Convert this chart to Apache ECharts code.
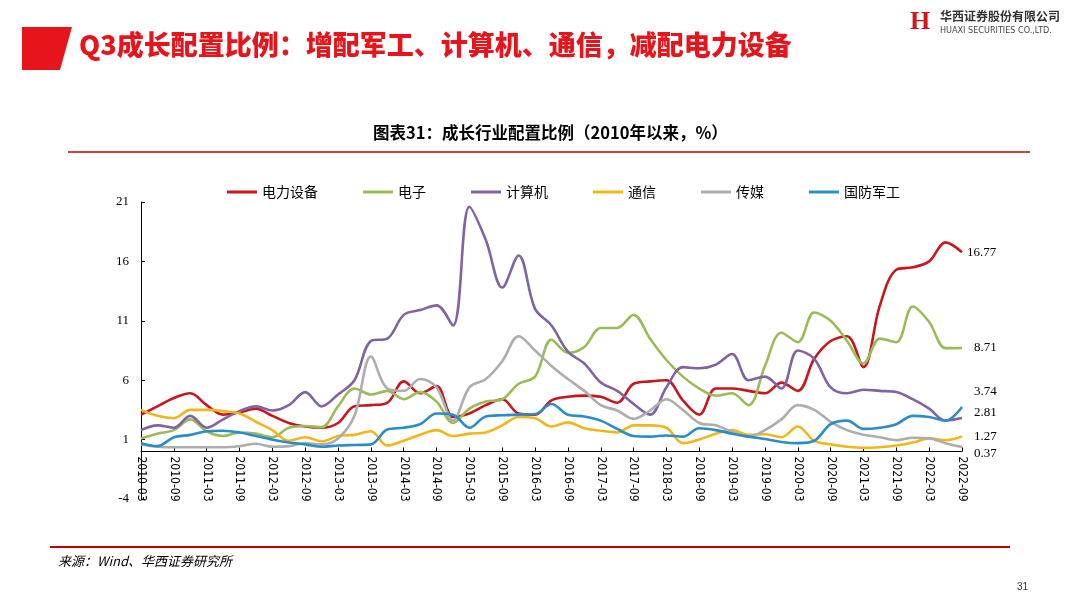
<!DOCTYPE html>
<html>
<head>
<meta charset="utf-8">
<title>成长行业配置比例</title>
<script src="https://cdn.jsdelivr.net/npm/echarts@6/dist/echarts.min.js"></script>
<style>
  html, body { margin: 0; padding: 0; background: #fff; }
  #chart { width: 1080px; height: 605px; }
</style>
</head>
<body>
<div id="chart"></div>
<script>
// 季度末日期
var dates = [
  '2010-03','2010-06','2010-09','2010-12','2011-03','2011-06','2011-09','2011-12',
  '2012-03','2012-06','2012-09','2012-12','2013-03','2013-06','2013-09','2013-12',
  '2014-03','2014-06','2014-09','2014-12','2015-03','2015-06','2015-09','2015-12',
  '2016-03','2016-06','2016-09','2016-12','2017-03','2017-06','2017-09','2017-12',
  '2018-03','2018-06','2018-09','2018-12','2019-03','2019-06','2019-09','2019-12',
  '2020-03','2020-06','2020-09','2020-12','2021-03','2021-06','2021-09','2021-12',
  '2022-03','2022-06','2022-09'
];

var names = ['电力设备', '电子', '计算机', '通信', '传媒', '国防军工'];
var colors = ['#C8161D', '#9BBB59', '#8064A2', '#F2B619', '#ADADAD', '#2B8DC8'];

var powerEquip = [3.1,3.8,4.5,4.9,3.9,3.1,3.3,3.6,3.0,2.4,2.1,2.0,2.4,3.8,3.9,4.1,
  5.9,4.9,5.5,2.9,3.2,3.9,4.4,3.2,3.1,4.3,4.6,4.7,4.6,4.1,5.7,5.9,
  6.0,4.3,3.1,5.3,5.3,5.1,4.9,5.8,5.1,7.8,9.3,9.7,7.1,12.3,15.3,15.5,
  16.0,17.6,16.77];
var electronics = [1.1,1.5,1.8,2.7,1.7,1.3,1.6,1.5,1.2,2.0,2.15,2.05,3.8,5.3,4.8,5.1,
  4.4,5.0,4.2,2.4,3.6,4.2,4.4,5.7,6.3,9.4,8.3,8.8,10.4,10.4,11.5,9.5,
  7.7,6.3,5.3,4.7,4.9,3.9,7.2,10.0,9.2,11.7,11.0,9.3,7.4,9.5,9.2,12.2,
  10.9,8.7,8.71];
var computer = [1.8,2.2,2.0,3.0,2.0,2.7,3.4,3.8,3.45,3.9,5.0,3.8,4.8,6.0,9.3,9.5,
  11.5,11.9,12.3,10.6,20.6,17.8,13.8,16.5,12.0,10.6,8.4,7.4,5.8,5.1,4.0,3.1,
  5.4,7.1,7.0,7.3,8.2,6.0,6.3,5.3,8.5,7.8,5.4,4.9,5.2,5.1,5.0,4.4,
  3.6,2.6,2.81];
var telecom = [3.5,3.0,2.8,3.5,3.5,3.4,3.2,2.5,1.8,0.9,1.2,0.85,1.3,1.4,1.7,0.5,
  0.9,1.4,1.8,1.3,1.5,1.6,2.2,2.9,2.8,2.1,2.45,1.95,1.75,1.6,2.2,2.2,
  2.0,0.7,1.0,1.5,1.8,1.4,1.45,1.2,2.1,0.9,0.6,0.4,0.3,0.35,0.5,0.75,
  1.1,0.95,1.27];
var media = [0.6,0.4,0.35,0.35,0.35,0.35,0.45,0.65,0.4,0.45,0.7,0.6,1.1,3.0,8.0,5.3,
  5.1,6.1,5.4,2.6,5.4,6.1,7.6,9.7,8.5,7.2,6.1,5.1,3.9,3.45,2.75,3.45,
  4.4,3.5,2.4,2.2,1.65,1.25,1.8,2.7,3.9,3.5,2.5,1.8,1.4,1.2,0.95,1.15,
  1.1,0.7,0.37];
var defense = [0.7,0.45,1.2,1.4,1.7,1.75,1.6,1.3,1.0,0.75,0.6,0.4,0.5,0.55,0.6,1.85,
  2.0,2.3,3.2,3.1,2.0,2.95,3.05,3.1,3.15,4.0,3.1,2.95,2.6,1.9,1.3,1.25,
  1.35,1.25,1.95,1.8,1.5,1.25,1.05,0.8,0.7,0.9,2.3,2.6,1.9,2.0,2.3,3.0,
  2.9,2.6,3.74];

var seriesData = [powerEquip, electronics, computer, telecom, media, defense];
// 末端标签的上下错开（避免重叠）
var endOffsets = [[0, 0], [0, 0], [0, -6], [0, 0], [0, 6], [0, -15]];
var endDistances = [5, 12, 12, 12, 12, 12];

var yMin = -4, yMax = 21;
var gridTop = 202, gridBottom = 106;

var serif = '"Times New Roman", "Liberation Serif", serif';
var cjk = '"Noto Sans CJK SC", sans-serif';

var myChart = echarts.init(document.getElementById('chart'), null, { renderer: 'canvas' });

// x轴放在 0 的位置
var plotH = 605 - gridTop - gridBottom;
var zeroOffset = -plotH * (0 - yMin) / (yMax - yMin);

var series = names.map(function (n, k) {
  return {
    name: n,
    type: 'line',
    data: seriesData[k],
    smooth: 0.35,
    symbol: 'none',
    lineStyle: { width: 2.6, color: colors[k] },
    itemStyle: { color: colors[k] },
    endLabel: {
      show: true,
      formatter: function (p) { return p.value; },
      color: '#000',
      fontFamily: serif,
      fontSize: 13,
      distance: endDistances[k],
      offset: endOffsets[k]
    }
  };
});

var option = {
  animation: false,
  backgroundColor: '#fff',
  legend: {
    data: names,
    left: 222,
    top: 180,
    itemWidth: 30,
    itemHeight: 3,
    itemGap: 45,
    icon: 'rect',
    textStyle: { fontFamily: cjk, fontSize: 14, color: '#000' }
  },
  grid: { left: 141, right: 118, top: gridTop, bottom: gridBottom },
  xAxis: {
    type: 'category',
    data: dates,
    boundaryGap: false,
    position: 'bottom',
    offset: zeroOffset,
    axisLine: { onZero: false, lineStyle: { color: '#000', width: 1 } },
    axisTick: { inside: true, interval: 1, length: 4, lineStyle: { color: '#000' } },
    axisLabel: {
      interval: 1,
      rotate: -90,
      margin: 5,
      color: '#000',
      fontSize: 12,
      fontFamily: '"DejaVu Sans Condensed", "Liberation Sans Narrow", sans-serif'
    }
  },
  yAxis: {
    type: 'value',
    min: yMin,
    max: yMax,
    interval: 5,
    axisLine: { show: true, lineStyle: { color: '#000', width: 1 } },
    axisTick: { show: true, inside: true, length: 4, lineStyle: { color: '#000' } },
    splitLine: { show: false },
    axisLabel: { color: '#000', fontFamily: serif, fontSize: 13, margin: 12 }
  },
  series: series,
  graphic: [
    { type: 'polygon', shape: { points: [[22, 27], [72, 27], [60, 70], [22, 70]] },
      style: { fill: '#E8141B' } },
    { type: 'text', left: 79, top: 31,
      style: { text: 'Q3成长配置比例：增配军工、计算机、通信，减配电力设备',
        fill: '#E8141B', font: '900 27px "Noto Sans CJK SC", sans-serif' } },
    { type: 'text', left: 910, top: 9,
      style: { text: 'H', fill: '#D7141A', font: 'bold 26px "Liberation Serif", serif' } },
    { type: 'text', left: 940, top: 10,
      style: { text: '华西证券股份有限公司', fill: '#333', font: 'bold 12px "Noto Sans CJK SC", serif' } },
    { type: 'text', left: 940, top: 26,
      style: { text: 'HUAXI SECURITIES CO.,LTD.', fill: '#444', font: '9px "Liberation Sans Narrow", "DejaVu Sans Condensed", sans-serif' } },
    { type: 'text', left: 373, top: 124,
      style: { text: '图表31：成长行业配置比例（2010年以来，%）', fill: '#000',
        font: 'bold 16.5px "Noto Sans CJK SC", sans-serif' } },
    { type: 'line', shape: { x1: 68, y1: 152, x2: 1030, y2: 152 },
      style: { stroke: '#C00000', lineWidth: 1.5 } },
    { type: 'line', shape: { x1: 50, y1: 547, x2: 1010, y2: 547 },
      style: { stroke: '#C00000', lineWidth: 2 } },
    { type: 'text', left: 58, top: 555,
      style: { text: '来源：Wind、华西证券研究所', fill: '#000',
        font: 'italic 13px "Noto Sans CJK SC", sans-serif' } },
    { type: 'text', left: 1017, top: 582,
      style: { text: '31', fill: '#333', font: '10px "Liberation Sans", sans-serif' } }
  ]
};

myChart.setOption(option);
</script>
</body>
</html>
